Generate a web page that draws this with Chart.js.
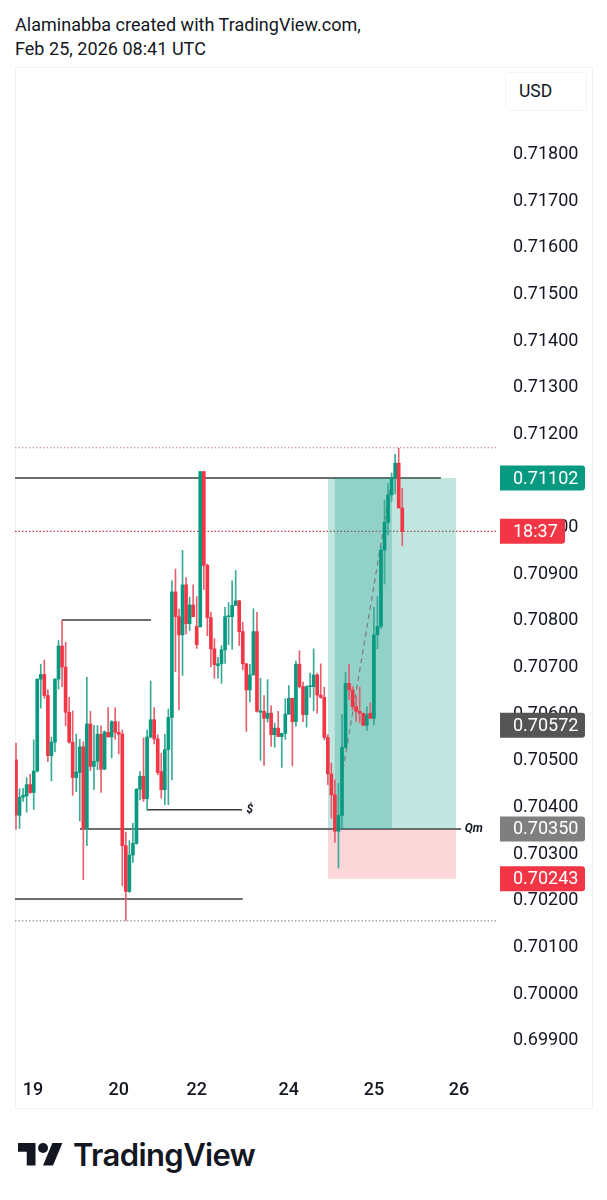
<!DOCTYPE html>
<html>
<head>
<meta charset="utf-8">
<title>AUDUSD chart</title>
<script src="https://cdn.jsdelivr.net/npm/chart.js@4"></script>
<style>
  body { margin: 0; background: #fff; width: 607px; height: 1200px; position: relative; overflow: hidden; font-family: Roboto, sans-serif; color: #131722; }
  .title { position: absolute; left: 15px; font-size: 18px; line-height: 24px; white-space: nowrap; letter-spacing: 0.03px; }
  #frame { position: absolute; left: 15px; top: 67px; width: 576px; height: 1040px; border: 1px solid #f0f3fa; }
  #wrap { position: absolute; left: 15px; top: 67px; width: 577px; height: 1041px; }
  #usd { position: absolute; left: 505px; top: 72px; width: 80px; height: 37px; border: 1px solid #f0f3fa; border-radius: 4px; font-size: 17.5px; line-height: 37px; text-indent: 13px; background: #fff; }
  #logo { position: absolute; left: 18px; top: 1138px; width: 45px; height: 35px; }
  #brand { position: absolute; left: 73px; top: 1134px; font-family: Inter, sans-serif; font-weight: 600; font-size: 31px; line-height: 42px; letter-spacing: -0.6px; color: #131722; white-space: nowrap; }
</style>
</head>
<body>
<div class="title" style="top:13px">Alaminabba created with TradingView.com,</div>
<div class="title" style="top:37px">Feb 25, 2026 08:41 UTC</div>
<div id="frame"></div>
<div id="wrap"><canvas id="priceChart" width="577" height="1041"></canvas></div>
<div id="usd">USD</div>
<svg id="logo" viewBox="0 0 36 28"><path fill="#131722" d="M14 22H7V11H0V4h14v18zM28 22h-8l7.5-18h8L28 22z"/><circle fill="#131722" cx="20" cy="8" r="4"/></svg>
<div id="brand">TradingView</div>

<script>
// hourly candles
const opens = [0.70498,0.70379,0.70418,0.70421,0.70445,0.70428,0.70474,0.70671,0.70681,0.70636,
  0.70507,0.70536,0.70671,0.70742,0.70697,0.70600,0.70536,0.70460,0.70471,0.70526,
  0.70351,0.70575,0.70484,0.70495,0.70553,0.70478,0.70557,0.70547,0.70580,0.70557,
  0.70553,0.70314,0.70216,0.70294,0.70319,0.70435,0.70463,0.70415,0.70547,0.70584,
  0.70543,0.70473,0.70434,0.70520,0.70589,0.70858,0.70805,0.70766,0.70873,0.70790,
  0.70830,0.70784,0.70783,0.71116,0.70915,0.70803,0.70736,0.70700,0.70704,0.70734,
  0.70805,0.70805,0.70829,0.70839,0.70773,0.70704,0.70648,0.70680,0.70773,0.70600,
  0.70602,0.70587,0.70598,0.70552,0.70566,0.70548,0.70555,0.70596,0.70630,0.70580,
  0.70703,0.70655,0.70595,0.70655,0.70655,0.70680,0.70637,0.70632,0.70546,0.70468,
  0.70423,0.70345,0.70379,0.70525,0.70662,0.70648,0.70612,0.70602,0.70598,0.70572,
  0.70598,0.70587,0.70766,0.70784,0.70948,0.71007,0.71066,0.71102,0.71134,0.71038];
const highs = [0.70534,0.70436,0.70437,0.70460,0.70467,0.70541,0.70672,0.70703,0.70712,0.70648,
  0.70547,0.70672,0.70754,0.70798,0.70750,0.70632,0.70603,0.70553,0.70542,0.70537,
  0.70675,0.70602,0.70572,0.70572,0.70571,0.70560,0.70610,0.70582,0.70610,0.70580,
  0.70562,0.70343,0.70325,0.70362,0.70437,0.70473,0.70545,0.70562,0.70667,0.70610,
  0.70552,0.70512,0.70553,0.70607,0.70882,0.70907,0.70821,0.70947,0.70889,0.70847,
  0.70873,0.70848,0.71116,0.71116,0.70918,0.70815,0.70758,0.70718,0.70743,0.70825,
  0.70835,0.70882,0.70904,0.70840,0.70793,0.70705,0.70703,0.70822,0.70814,0.70673,
  0.70636,0.70670,0.70614,0.70577,0.70602,0.70555,0.70629,0.70657,0.70630,0.70710,
  0.70732,0.70665,0.70657,0.70684,0.70736,0.70684,0.70704,0.70654,0.70552,0.70491,
  0.70455,0.70448,0.70595,0.70686,0.70703,0.70655,0.70634,0.70654,0.70598,0.70612,
  0.70620,0.70825,0.70848,0.70957,0.71055,0.71091,0.71113,0.71153,0.71166,0.71080];
const lows = [0.70349,0.70351,0.70409,0.70386,0.70426,0.70392,0.70472,0.70609,0.70630,0.70494,
  0.70453,0.70515,0.70650,0.70655,0.70571,0.70534,0.70422,0.70430,0.70367,0.70241,
  0.70314,0.70475,0.70434,0.70477,0.70428,0.70477,0.70547,0.70502,0.70542,0.70511,
  0.70228,0.70154,0.70214,0.70278,0.70317,0.70412,0.70409,0.70390,0.70545,0.70532,
  0.70466,0.70416,0.70402,0.70402,0.70455,0.70687,0.70605,0.70679,0.70768,0.70775,
  0.70805,0.70737,0.70783,0.70863,0.70764,0.70697,0.70673,0.70673,0.70662,0.70705,
  0.70745,0.70735,0.70829,0.70743,0.70691,0.70559,0.70622,0.70680,0.70600,0.70497,
  0.70486,0.70579,0.70527,0.70525,0.70548,0.70482,0.70542,0.70596,0.70485,0.70570,
  0.70652,0.70580,0.70568,0.70632,0.70603,0.70598,0.70630,0.70541,0.70445,0.70373,
  0.70321,0.70266,0.70352,0.70523,0.70627,0.70605,0.70580,0.70577,0.70571,0.70561,
  0.70587,0.70573,0.70736,0.70780,0.70875,0.70980,0.71052,0.71068,0.71038,0.70957];
const closes = [0.70380,0.70418,0.70422,0.70445,0.70428,0.70474,0.70671,0.70681,0.70636,0.70507,
  0.70536,0.70671,0.70742,0.70697,0.70600,0.70536,0.70460,0.70472,0.70526,0.70351,
  0.70575,0.70484,0.70495,0.70553,0.70478,0.70558,0.70547,0.70580,0.70557,0.70553,
  0.70314,0.70216,0.70294,0.70319,0.70435,0.70463,0.70415,0.70547,0.70584,0.70543,
  0.70471,0.70434,0.70520,0.70589,0.70858,0.70805,0.70766,0.70873,0.70790,0.70830,
  0.70805,0.70745,0.71116,0.70915,0.70803,0.70736,0.70702,0.70704,0.70734,0.70805,
  0.70807,0.70829,0.70839,0.70773,0.70704,0.70648,0.70680,0.70773,0.70602,0.70603,
  0.70587,0.70598,0.70552,0.70566,0.70548,0.70555,0.70596,0.70630,0.70580,0.70703,
  0.70655,0.70595,0.70655,0.70657,0.70680,0.70637,0.70632,0.70546,0.70468,0.70423,
  0.70345,0.70379,0.70525,0.70662,0.70648,0.70612,0.70602,0.70598,0.70572,0.70595,
  0.70587,0.70766,0.70784,0.70948,0.71007,0.71066,0.71102,0.71134,0.71038,0.70988];

const priceTicks = [0.699,0.700,0.701,0.702,0.703,0.704,0.705,0.706,0.707,0.708,0.709,0.710,0.711,0.712,0.713,0.714,0.715,0.716,0.717,0.718];
const dayTicks = [4.8,29,51,77,101,125];
const dayLabels = ['19','20','22','24','25','26'];

// drawings on the chart: [fromBar, toBar, price]
const solidLines = [
  [-0.28, 119.9, 0.71102],
  [13, 38.1, 0.70798],
  [37, 63.8, 0.70391],
  [18.06, 125.6, 0.70350],
  [-0.28, 64, 0.70200]
];
const dottedLines = [
  [-0.28, 135.7, 0.71167, '#b8888f'],
  [-0.28, 135.7, 0.70988, '#c23f4e'],
  [-0.28, 135.7, 0.70153, '#9c8f90']
];
const entryPath = [[92.3, 0.70477], [106.1, 0.71102]];
// position boxes: [fromBar, toBar, top price, bottom price]
const profitBox = [88, 124.2, 0.71102, 0.70350];
const holdBox = [89.9, 106.1, 0.71102, 0.70350];
const lossBox = [88, 124.2, 0.70350, 0.70243];

const tagTexts = ['0.71102','18:37','0.70572','0.70350','0.70243'];
const tagPrices = [0.71102,0.70988,0.70572,0.70350,0.70243];
const tagColors = ['#089981','#f23645','#555555','#7f7f7f','#f23645'];
const tagWidths = [85,65,85,85,85];
const notes = [['$', 66.0, 0.70391], ['Qm', 129.2, 0.70350]];

const GREEN = '#089981', RED = '#f23645';
const candleColor = opens.map((o, i) => closes[i] >= o ? GREEN : RED);
const wickColor = opens.map((o, i) => closes[i] >= o ? '#3aa996' : '#e4606e');

function boxDataset(b, color, order) {
  return {
    type: 'line', order: order,
    data: [{ x: b[0], y: b[2] }, { x: b[1], y: b[2] }],
    fill: { value: b[3] }, backgroundColor: color,
    borderWidth: 0, pointRadius: 0
  };
}

function lineDataset(pts, color, width, dash, order) {
  return {
    type: 'line', order: order,
    data: pts.map(p => ({ x: p[0], y: p[1] })),
    borderColor: color, borderWidth: width, borderDash: dash,
    pointRadius: 0, fill: false
  };
}

const datasets = [
  { type: 'bar', order: 2, barThickness: 1, grouped: false, backgroundColor: wickColor,
    data: highs.map((h, i) => ({ x: i, y: [lows[i], h] })) },
  { type: 'bar', order: 1, barThickness: 3, grouped: false, backgroundColor: candleColor,
    data: opens.map((o, i) => ({ x: i, y: [o, closes[i]] })) },
  boxDataset(holdBox, 'rgba(8,153,129,0.25)', 5),
  boxDataset(profitBox, 'rgba(8,153,129,0.25)', 6),
  boxDataset(lossBox, 'rgba(242,54,69,0.2)', 6),
  lineDataset(entryPath, '#7c7c7c', 1.2, [5, 4], 4)
];
solidLines.forEach(l => datasets.push(lineDataset([[l[0], l[2]], [l[1], l[2]]], '#3c3c3c', 1.5, [], 8)));
dottedLines.forEach(l => datasets.push(lineDataset([[l[0], l[2]], [l[1], l[2]]], l[3], 1.2, [1.5, 2], 9)));

const tagPlugin = {
  id: 'priceTags',
  afterDraw(chart) {
    const ctx = chart.ctx, y = chart.scales.y, x = chart.scales.x;
    ctx.save();
    ctx.textBaseline = 'middle';
    notes.forEach(n => {
      ctx.font = 'italic 700 12px Roboto';
      ctx.fillStyle = '#131722';
      ctx.textAlign = 'center';
      ctx.fillText(n[0], x.getPixelForValue(n[1]), y.getPixelForValue(n[2]));
    });
    ctx.textAlign = 'left';
    ctx.font = '18px Roboto';
    tagTexts.forEach((t, i) => {
      const py = y.getPixelForValue(tagPrices[i]);
      ctx.fillStyle = tagColors[i];
      ctx.beginPath();
      ctx.roundRect(485, py - 12.5, tagWidths[i], 25, [0, 3, 3, 0]);
      ctx.fill();
      ctx.fillStyle = '#fff';
      ctx.fillText(t, 498, py + 1);
    });
    ctx.restore();
  }
};

new Chart(document.getElementById('priceChart'), {
  data: { datasets: datasets },
  plugins: [tagPlugin],
  options: {
    responsive: false,
    animation: false,
    layout: { padding: { top: 1, left: 0, right: 0, bottom: 0 } },
    plugins: { legend: { display: false }, tooltip: { enabled: false } },
    scales: {
      x: {
        type: 'linear', min: -0.28, max: 138, offset: false,
        grid: { display: false, drawTicks: false }, border: { display: false },
        afterBuildTicks: s => { s.ticks = dayTicks.map(v => ({ value: v })); },
        afterFit: s => { s.height = 43; s.paddingLeft = 0; s.paddingRight = 0; },
        ticks: {
          autoSkip: false, maxRotation: 0, padding: 15, color: '#131722',
          font: { family: 'Roboto', size: 18, weight: '500' },
          callback: (v, i) => dayLabels[i]
        }
      },
      y: {
        position: 'right', min: 0.69844, max: 0.71981,
        grid: { display: false, drawTicks: false }, border: { display: false },
        afterBuildTicks: s => { s.ticks = priceTicks.map(v => ({ value: v })); },
        afterFit: s => { s.width = 87; s.paddingTop = 0; s.paddingBottom = 0; },
        ticks: {
          autoSkip: false, padding: 8, labelOffset: 2, color: '#131722',
          font: { family: 'Roboto', size: 18 },
          callback: v => v.toFixed(5)
        }
      }
    }
  }
});
</script>
</body>
</html>
